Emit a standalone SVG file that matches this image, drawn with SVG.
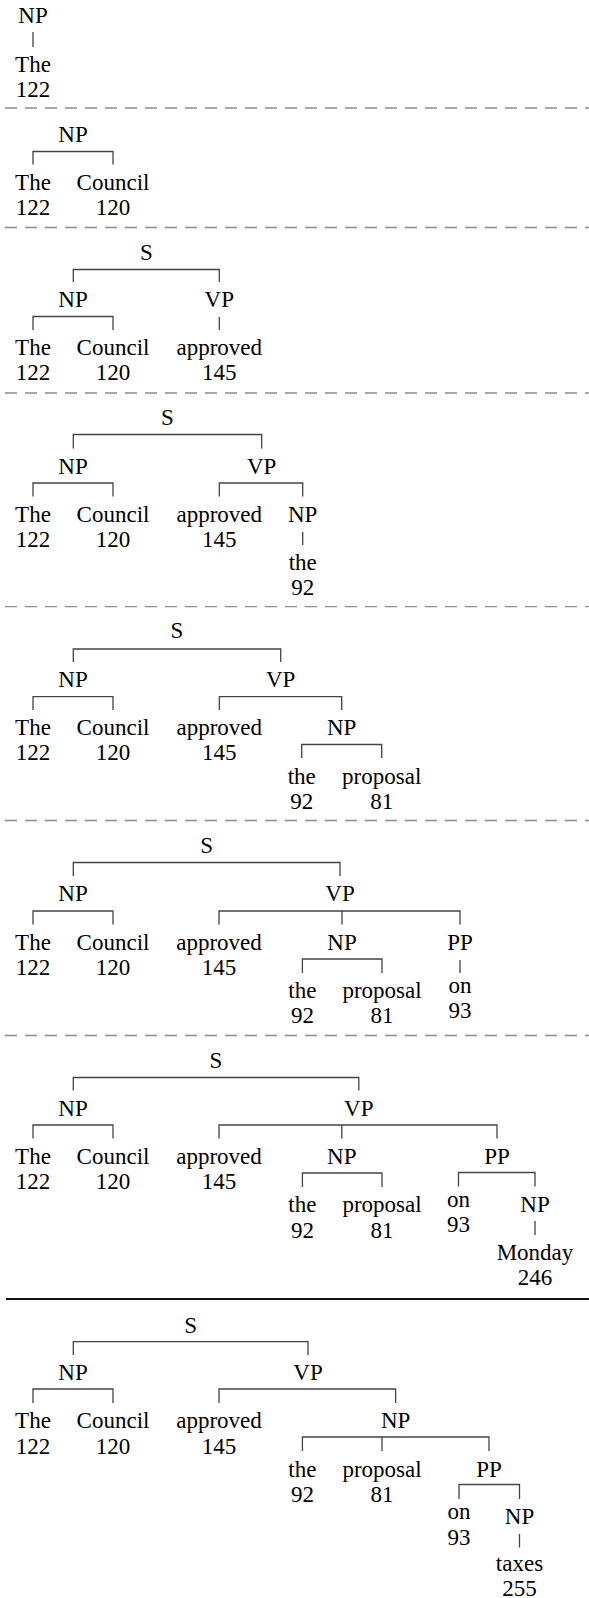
<svg xmlns="http://www.w3.org/2000/svg" width="589" height="1598" viewBox="0 0 589 1598">
<style>
text{font-family:"Liberation Serif","Times New Roman",serif;font-size:23px;fill:#000;text-anchor:middle}
.c{fill:none;stroke:#444;stroke-width:1.3}
.dash{stroke:#8c8c8c;stroke-width:1.3;stroke-dasharray:12 8}
.solid{stroke:#111;stroke-width:2}
</style>
<rect width="589" height="1598" fill="#fff"/>
<g id="separators">
<line class="dash" x1="5" y1="108" x2="589" y2="108"/>
<line class="dash" x1="5" y1="227.5" x2="589" y2="227.5"/>
<line class="dash" x1="5" y1="393" x2="589" y2="393"/>
<line class="dash" x1="5" y1="606.7" x2="589" y2="606.7"/>
<line class="dash" x1="5" y1="820.5" x2="589" y2="820.5"/>
<line class="dash" x1="5" y1="1035.5" x2="589" y2="1035.5"/>
<line class="solid" x1="6" y1="1299" x2="589" y2="1299"/>
</g>
<g id="connectors">
<path class="c" d="M33 32V47"/>
<path class="c" d="M33 164.5V151.5H113V164.5"/>
<path class="c" d="M73.3 282V269.5H219.3V282M33 330V316.5H113V330M219.3 317V330"/>
<path class="c" d="M73.3 448.5V434.5H261.7V448.5M33 496.5V483H113V496.5M219.3 496.5V483H302.7V496.5M302.7 532V545"/>
<path class="c" d="M73.3 662V649H280.7V662M33 710V696.7H113V710M219.3 710V696.7H341.7V710M301.7 758V744.5H381.7V758"/>
<path class="c" d="M73.3 876V862.5H340V876M33 924.6V911H113V924.6M219 924.6V911H460V924.6M342 911V924.6M302.4 973V959H382V973M460 960V973"/>
<path class="c" d="M73.3 1090.5V1077.5H358.8V1090.5M33 1138.5V1125H113V1138.5M219 1138.5V1125H497V1138.5M341.8 1125V1138.5M302.4 1187V1173H382V1187M458.5 1186.5V1172.5H535V1186.5M535 1221V1235"/>
<path class="c" d="M73.3 1355V1341.7H308V1355M33 1403V1389H113V1403M219 1403V1389H395.6V1403M302.4 1451V1437H489V1451M382 1437V1451M459 1499V1484.5H519.5V1499M519.5 1534V1547.5"/>
</g>
<!-- panel 1 -->
<g id="p1-np"><text x="33" y="22.7">NP</text></g>
<g id="p1-the"><text x="33" y="72">The</text><text x="33" y="97">122</text></g>
<!-- panel 2 -->
<g id="p2-np"><text x="73" y="141.7">NP</text></g>
<g id="p2-the"><text x="33" y="190">The</text><text x="33" y="215">122</text></g>
<g id="p2-council"><text x="113" y="190">Council</text><text x="113" y="215">120</text></g>
<!-- panel 3 -->
<g id="p3-s"><text x="146.3" y="260">S</text></g>
<g id="p3-np"><text x="73" y="307">NP</text></g>
<g id="p3-vp"><text x="219.3" y="307">VP</text></g>
<g id="p3-the"><text x="33" y="355">The</text><text x="33" y="380">122</text></g>
<g id="p3-council"><text x="113" y="355">Council</text><text x="113" y="380">120</text></g>
<g id="p3-approved"><text x="219.3" y="355">approved</text><text x="219.3" y="380">145</text></g>
<!-- panel 4 -->
<g id="p4-s"><text x="167.5" y="425">S</text></g>
<g id="p4-np"><text x="73" y="473.5">NP</text></g>
<g id="p4-vp"><text x="261.7" y="473.5">VP</text></g>
<g id="p4-the"><text x="33" y="521.7">The</text><text x="33" y="546.7">122</text></g>
<g id="p4-council"><text x="113" y="521.7">Council</text><text x="113" y="546.7">120</text></g>
<g id="p4-approved"><text x="219.3" y="521.7">approved</text><text x="219.3" y="546.7">145</text></g>
<g id="p4-np2"><text x="302.7" y="521.7">NP</text></g>
<g id="p4-the2"><text x="302.7" y="570">the</text><text x="302.7" y="595">92</text></g>
<!-- panel 5 -->
<g id="p5-s"><text x="177" y="638.3">S</text></g>
<g id="p5-np"><text x="73" y="686.7">NP</text></g>
<g id="p5-vp"><text x="280.7" y="686.7">VP</text></g>
<g id="p5-the"><text x="33" y="735">The</text><text x="33" y="760">122</text></g>
<g id="p5-council"><text x="113" y="735">Council</text><text x="113" y="760">120</text></g>
<g id="p5-approved"><text x="219.3" y="735">approved</text><text x="219.3" y="760">145</text></g>
<g id="p5-np2"><text x="341.7" y="735">NP</text></g>
<g id="p5-the2"><text x="301.7" y="784">the</text><text x="301.7" y="809">92</text></g>
<g id="p5-proposal"><text x="381.7" y="784">proposal</text><text x="381.7" y="809">81</text></g>
<!-- panel 6 -->
<g id="p6-s"><text x="206.7" y="853">S</text></g>
<g id="p6-np"><text x="73" y="901.3">NP</text></g>
<g id="p6-vp"><text x="340" y="901.3">VP</text></g>
<g id="p6-the"><text x="33" y="949.6">The</text><text x="33" y="974.6">122</text></g>
<g id="p6-council"><text x="113" y="949.6">Council</text><text x="113" y="974.6">120</text></g>
<g id="p6-approved"><text x="219" y="949.6">approved</text><text x="219" y="974.6">145</text></g>
<g id="p6-np2"><text x="342" y="949.6">NP</text></g>
<g id="p6-pp"><text x="460" y="949.6">PP</text></g>
<g id="p6-the2"><text x="302.4" y="998">the</text><text x="302.4" y="1023">92</text></g>
<g id="p6-proposal"><text x="382" y="998">proposal</text><text x="382" y="1023">81</text></g>
<g id="p6-on"><text x="460" y="993">on</text><text x="460" y="1018">93</text></g>
<!-- panel 7 -->
<g id="p7-s"><text x="216" y="1068">S</text></g>
<g id="p7-np"><text x="73" y="1115.5">NP</text></g>
<g id="p7-vp"><text x="358.8" y="1115.5">VP</text></g>
<g id="p7-the"><text x="33" y="1163.5">The</text><text x="33" y="1189">122</text></g>
<g id="p7-council"><text x="113" y="1163.5">Council</text><text x="113" y="1189">120</text></g>
<g id="p7-approved"><text x="219" y="1163.5">approved</text><text x="219" y="1189">145</text></g>
<g id="p7-np2"><text x="341.8" y="1163.5">NP</text></g>
<g id="p7-pp"><text x="497" y="1163.5">PP</text></g>
<g id="p7-the2"><text x="302.4" y="1212">the</text><text x="302.4" y="1237.5">92</text></g>
<g id="p7-proposal"><text x="382" y="1212">proposal</text><text x="382" y="1237.5">81</text></g>
<g id="p7-on"><text x="458.5" y="1207">on</text><text x="458.5" y="1232">93</text></g>
<g id="p7-np3"><text x="535" y="1211.5">NP</text></g>
<g id="p7-monday"><text x="535" y="1259.5">Monday</text><text x="535" y="1285">246</text></g>
<!-- panel 8 -->
<g id="p8-s"><text x="190.7" y="1332.5">S</text></g>
<g id="p8-np"><text x="73" y="1380">NP</text></g>
<g id="p8-vp"><text x="308" y="1380">VP</text></g>
<g id="p8-the"><text x="33" y="1428.3">The</text><text x="33" y="1453.5">122</text></g>
<g id="p8-council"><text x="113" y="1428.3">Council</text><text x="113" y="1453.5">120</text></g>
<g id="p8-approved"><text x="219" y="1428.3">approved</text><text x="219" y="1453.5">145</text></g>
<g id="p8-np2"><text x="395.6" y="1428.3">NP</text></g>
<g id="p8-the2"><text x="302.4" y="1476.5">the</text><text x="302.4" y="1501.5">92</text></g>
<g id="p8-proposal"><text x="382" y="1476.5">proposal</text><text x="382" y="1501.5">81</text></g>
<g id="p8-pp"><text x="489" y="1476.5">PP</text></g>
<g id="p8-on"><text x="459" y="1519.3">on</text><text x="459" y="1544.5">93</text></g>
<g id="p8-np3"><text x="519.5" y="1524">NP</text></g>
<g id="p8-taxes"><text x="519.5" y="1570.5">taxes</text><text x="519.5" y="1595.5">255</text></g>
</svg>
